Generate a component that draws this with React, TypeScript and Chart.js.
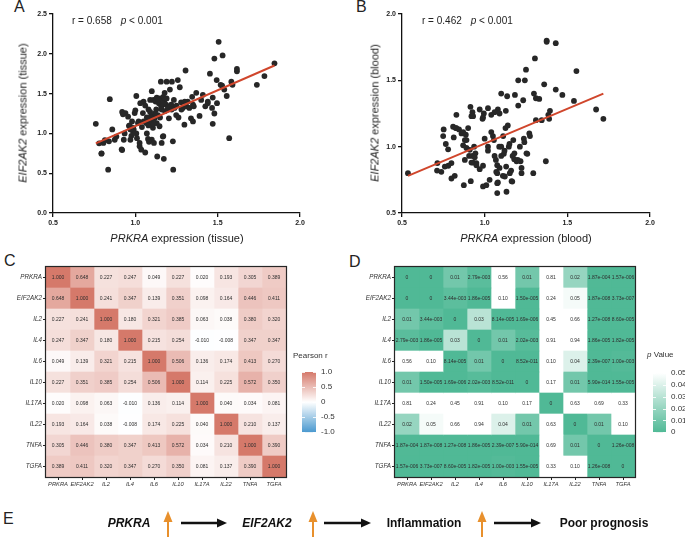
import React, { useEffect, useRef } from "react";
import { Chart, registerables } from "chart.js";

Chart.register(...registerables);

const FONT = "'Liberation Sans', Arial, Helvetica, sans-serif";

// ---------- Panel A: tissue ----------
const tissueX = [
  0.76, 0.794, 0.806, 0.835, 0.845, 0.84, 0.86, 0.875, 0.885, 0.917,
  0.92, 0.93, 0.935, 0.94, 0.956, 0.966, 0.976, 0.97, 0.986, 0.99,
  0.996, 1.0, 1.006, 1.006, 1.01, 1.016, 1.02, 1.026, 1.026, 1.036,
  1.046, 1.05, 1.06, 1.066, 1.07, 1.077, 1.08, 1.085, 1.09, 1.09,
  1.097, 1.1, 1.1, 1.107, 1.11, 1.113, 1.117, 1.123, 1.127, 1.13,
  1.133, 1.137, 1.143, 1.147, 1.15, 1.155, 1.157, 1.16, 1.167, 1.17,
  1.173, 1.177, 1.18, 1.187, 1.19, 1.197, 1.204, 1.21, 1.218, 1.222,
  1.228, 1.23, 1.234, 1.238, 1.248, 1.258, 1.262, 1.27, 1.278, 1.288,
  1.298, 1.305, 1.31, 1.318, 1.328, 1.338, 1.345, 1.355, 1.37, 1.39,
  1.41, 1.425, 1.44, 1.453, 1.466, 1.47, 1.48, 1.48, 1.494, 1.496,
  1.506, 1.518, 1.53, 1.54, 1.555, 1.57, 1.583, 1.59, 1.617, 1.617,
  1.738, 1.784, 1.845, 0.78, 0.815, 0.795, 0.925, 0.92, 0.961, 0.986,
  1.083, 1.17, 1.178, 1.05, 1.07, 1.08, 1.1, 1.12, 1.13, 1.14,
  1.16, 1.17, 1.19, 1.2, 1.11, 1.09, 1.06, 1.03, 1.04, 1.15,
  1.22, 1.25, 1.28, 1.3, 1.35, 1.4, 0.97, 0.98, 1.527, 1.44,
  1.47, 1.35,
];
const tissueY = [
  1.12, 0.745, 0.88, 0.544, 1.43, 0.9, 1.05, 0.92, 0.96, 0.8,
  1.27, 0.92, 1.0, 1.255, 1.21, 1.1, 0.97, 0.92, 1.07, 1.05,
  1.255, 1.29, 1.47, 1.0, 0.94, 1.13, 1.15, 0.84, 0.88, 0.795,
  1.255, 1.4, 0.76, 1.13, 1.0, 0.93, 1.3, 1.17, 1.11, 1.42,
  1.22, 0.92, 1.53, 1.07, 1.42, 0.88, 1.19, 1.4, 1.3, 1.13,
  0.71, 1.23, 1.38, 1.09, 1.44, 1.65, 1.34, 0.88, 0.96, 1.46,
  0.68, 1.42, 1.28, 1.36, 1.65, 1.3, 1.19, 1.55, 1.36, 1.65,
  0.9, 0.544, 1.42, 1.32, 1.23, 1.67, 1.2, 1.58, 1.39, 1.32,
  1.11, 1.79, 1.34, 1.4, 1.32, 1.19, 1.46, 1.34, 1.51, 1.22,
  1.485, 1.34, 1.4, 1.75, 1.32, 1.12, 1.25, 1.94, 1.67, 1.38,
  2.15, 1.61, 1.98, 1.55, 1.47, 0.94, 1.65, 1.61, 1.78, 1.81,
  1.61, 1.72, 1.88, 0.875, 0.915, 0.75, 1.24, 0.79, 1.095, 1.02,
  0.895, 0.966, 1.51, 1.15, 1.2, 1.1, 1.15, 1.25, 1.45, 1.42,
  1.3, 1.38, 1.44, 1.33, 1.12, 1.27, 1.35, 1.38, 1.08, 1.2,
  1.3, 1.35, 1.3, 1.4, 1.36, 1.42, 1.05, 1.15, 1.6, 1.38,
  1.45, 1.15,
];
const tissueFitX = [0.76, 1.845];
const tissueFitY = [0.875, 1.853];

// ---------- Panel B: blood ----------
const bloodX = [
  0.536, 0.714, 0.712, 0.738, 0.752, 0.749, 0.765, 0.759, 0.779, 0.799,
  0.799, 0.809, 0.813, 0.819, 0.829, 0.829, 0.845, 0.86, 0.87, 0.874,
  0.88, 0.886, 0.89, 0.9, 0.906, 0.914, 0.916, 0.92, 0.926, 0.926,
  0.93, 0.936, 0.944, 0.95, 0.97, 0.987, 0.99, 0.99, 0.995, 1.01,
  1.02, 1.02, 1.03, 1.04, 1.04, 1.05, 1.056, 1.06, 1.068, 1.07,
  1.076, 1.08, 1.08, 1.088, 1.09, 1.1, 1.1, 1.112, 1.116, 1.122,
  1.126, 1.128, 1.132, 1.136, 1.14, 1.146, 1.152, 1.163, 1.169, 1.173,
  1.183, 1.193, 1.203, 1.203, 1.213, 1.217, 1.223, 1.223, 1.233, 1.237,
  1.243, 1.25, 1.253, 1.27, 1.274, 1.294, 1.298, 1.304, 1.31, 1.31,
  1.33, 1.345, 1.36, 1.37, 1.375, 1.375, 1.385, 1.39, 1.395, 1.43,
  1.43, 1.47, 1.555, 1.54, 1.674, 1.718, 0.825, 0.87, 0.89, 0.91,
  0.78, 0.88, 0.92, 0.94, 0.95, 0.97, 1.076, 1.076, 1.076, 0.93,
  0.99, 1.06, 1.09, 1.0, 1.02, 1.1, 1.12, 1.15, 1.18, 1.2,
  1.13, 1.16, 1.11, 1.24, 1.258, 1.179, 1.167,
];
const bloodY = [
  0.8, 0.876, 0.82, 0.81, 1.13, 1.08, 1.02, 0.85, 0.98, 0.876,
  0.76, 1.15, 1.07, 0.78, 1.24, 1.14, 1.13, 1.1, 1.01, 0.71,
  1.05, 1.09, 0.99, 1.14, 0.93, 1.3, 0.74, 1.23, 1.26, 0.93,
  0.88, 1.0, 0.95, 0.876, 1.28, 1.21, 0.856, 0.7, 1.25, 0.71,
  1.29, 1.0, 0.75, 1.24, 1.11, 1.08, 1.05, 0.93, 0.9, 0.81,
  0.65, 1.28, 0.73, 1.0, 0.84, 1.4, 0.93, 1.08, 0.946, 0.775,
  1.14, 1.27, 0.66, 1.38, 1.16, 1.0, 0.8, 0.74, 0.93, 1.05,
  1.39, 0.89, 1.31, 1.5, 1.0, 0.89, 0.84, 0.8, 1.35, 1.06,
  1.5, 1.58, 0.95, 1.1, 1.08, 0.8, 1.4, 1.665, 1.365, 1.2,
  1.36, 1.2, 1.47, 0.89, 1.8, 1.79, 1.24, 1.21, 1.27, 1.43,
  1.78, 1.39, 1.57, 1.345, 1.28, 1.21, 1.14, 1.11, 1.05, 0.976,
  0.856, 0.9, 0.88, 0.92, 0.86, 0.83, 0.725, 0.8, 0.86, 1.23,
  1.22, 1.26, 1.25, 1.06, 0.97, 1.0, 0.97, 1.02, 0.95, 0.9,
  0.85, 0.82, 0.78, 1.034, 0.946, 0.906, 0.737,
];
const bloodFitX = [0.536, 1.718];
const bloodFitY = [0.78, 1.4];

// ---------- Panels C & D ----------
const genes = ["PRKRA", "EIF2AK2", "IL2", "IL4", "IL6", "IL10", "IL17A", "IL22", "TNFA", "TGFA"];

const pearsonR = [
  [1.0, 0.648, 0.227, 0.247, 0.049, 0.227, 0.02, 0.193, 0.305, 0.389],
  [0.648, 1.0, 0.241, 0.347, 0.139, 0.351, 0.098, 0.164, 0.446, 0.411],
  [0.227, 0.241, 1.0, 0.18, 0.321, 0.385, 0.063, 0.038, 0.38, 0.32],
  [0.247, 0.347, 0.18, 1.0, 0.215, 0.254, -0.01, -0.008, 0.347, 0.347],
  [0.049, 0.139, 0.321, 0.215, 1.0, 0.506, 0.136, 0.174, 0.413, 0.27],
  [0.227, 0.351, 0.385, 0.254, 0.506, 1.0, 0.114, 0.225, 0.572, 0.35],
  [0.02, 0.098, 0.063, -0.01, 0.136, 0.114, 1.0, 0.04, 0.034, 0.081],
  [0.193, 0.164, 0.038, -0.008, 0.174, 0.225, 0.04, 1.0, 0.21, 0.137],
  [0.305, 0.446, 0.38, 0.347, 0.413, 0.572, 0.034, 0.21, 1.0, 0.39],
  [0.389, 0.411, 0.32, 0.347, 0.27, 0.35, 0.081, 0.137, 0.39, 1.0],
];

const pValues = [
  [0, 0, 0.01, 2.79e-3, 0.56, 0.01, 0.81, 0.02, 1.87e-4, 1.57e-6],
  [0, 0, 3.44e-3, 1.86e-5, 0.1, 1.5e-5, 0.24, 0.047, 1.87e-8, 3.73e-7],
  [0.01, 3.44e-3, 0, 0.03, 8.14e-5, 1.69e-6, 0.45, 0.66, 1.27e-8, 8.6e-5],
  [2.79e-3, 1.86e-5, 0.03, 0, 0.01, 2.02e-3, 0.91, 0.94, 1.86e-5, 1.82e-5],
  [0.56, 0.1, 8.14e-5, 0.01, 0, 8.52e-11, 0.1, 0.04, 2.39e-7, 1.0e-3],
  [0.01, 1.5e-5, 1.69e-6, 2.02e-3, 8.52e-11, 0, 0.17, 0.01, 5.9e-14, 1.55e-5],
  [0.81, 0.24, 0.45, 0.91, 0.1, 0.17, 0, 0.63, 0.69, 0.33],
  [0.02, 0.047, 0.66, 0.94, 0.04, 0.01, 0.63, 0, 0.01, 0.1],
  [1.87e-4, 1.87e-8, 1.27e-8, 1.86e-5, 2.39e-7, 5.9e-14, 0.69, 0.01, 0, 1.26e-8],
  [1.57e-6, 3.73e-7, 8.6e-5, 1.82e-5, 1.0e-3, 1.55e-5, 0.33, 0.1, 1.26e-8, 0],
];

const rScaleMin = -1;
const rScaleMax = 1;
const rScaleStep = 0.5;
const pScaleMin = 0;
const pScaleMax = 0.05;
const pScaleStep = 0.01;

// ---------- Panel E ----------
const flowLabels = ["PRKRA", "EIF2AK2", "Inflammation", "Poor prognosis"];
const flowItalic = [true, true, false, false];

// ---------- helpers ----------
const RED = [213, 121, 106];
const BLUE = [74, 153, 207];
const GREEN = [80, 185, 150];

function mix(c: number[], t: number) {
  const f = (i: number) => Math.round(255 + (c[i] - 255) * t);
  return `rgb(${f(0)},${f(1)},${f(2)})`;
}
function rColor(r: number) {
  return r >= 0 ? mix(RED, Math.min(r, 1)) : mix(BLUE, Math.min(-r, 1));
}
function pColor(p: number) {
  return mix(GREEN, 1 - Math.min(p / pScaleMax, 1));
}
const fmtR = (v: number) => v.toFixed(3);
const fmtP = (v: number) =>
  v === 0
    ? "0"
    : v < 0.01
    ? v.toExponential(2).replace(/e([+-])(\d+)$/, (_m, s, d) => "e" + s + String(d).padStart(3, "0"))
    : v.toFixed(2);

const noPlugins = { legend: { display: false }, tooltip: { enabled: false } };

function ScatterPanel(props: any) {
  const { left, top, width, height, xs, ys, fitX, fitY, xMin, xMax, yMin, yMax, pad, yW, xH } = props;
  const ref = useRef<HTMLCanvasElement>(null);
  useEffect(() => {
    const tickFont = { family: FONT, size: 7, weight: "bold" as const };
    const axisCommon = {
      type: "linear" as const,
      grid: { drawOnChartArea: false, drawTicks: true, tickLength: 4, color: "#111", lineWidth: 1.3 },
      border: { display: true, color: "#111", width: 1.3 },
    };
    const chart = new Chart(ref.current as HTMLCanvasElement, {
      type: "scatter",
      data: {
        datasets: [
          {
            type: "line",
            data: fitX.map((x: number, i: number) => ({ x, y: fitY[i] })),
            borderColor: "#d0462c",
            borderWidth: 2,
            pointRadius: 0,
            order: 0,
          } as any,
          {
            type: "scatter",
            data: xs.map((x: number, i: number) => ({ x, y: ys[i] })),
            backgroundColor: "#272727",
            borderWidth: 0,
            pointRadius: 2.9,
            order: 1,
          } as any,
        ],
      },
      options: {
        responsive: false,
        animation: false,
        events: [],
        layout: { padding: pad },
        plugins: noPlugins as any,
        scales: {
          x: {
            ...axisCommon,
            min: xMin,
            max: xMax,
            afterFit: (s: any) => {
              s.height = xH;
            },
            ticks: {
              stepSize: 0.5,
              maxRotation: 0,
              padding: 2,
              color: "#222",
              font: tickFont,
              callback: (v: any) => Number(v).toFixed(1),
            },
          },
          y: {
            ...axisCommon,
            min: yMin,
            max: yMax,
            afterFit: (s: any) => {
              s.width = yW;
            },
            ticks: {
              stepSize: 0.5,
              padding: 2,
              color: "#222",
              font: tickFont,
              callback: (v: any) => Number(v).toFixed(1),
            },
          },
        },
      } as any,
    });
    return () => chart.destroy();
  }, []);
  return (
    <canvas
      ref={ref}
      width={width}
      height={height}
      style={{ position: "absolute", left, top, width, height }}
    />
  );
}

function HeatPanel(props: any) {
  const { left, top, width, height, matrix, colorOf, fmt, pad, yW, xH } = props;
  const ref = useRef<HTMLCanvasElement>(null);
  useEffect(() => {
    const yFont = { family: FONT, size: 6.3, style: "italic" as const };
    const xFont = { family: FONT, size: 5.8, style: "italic" as const };
    const cellText = {
      id: "cellText",
      afterDatasetsDraw(chart: any) {
        const c = chart.ctx;
        c.save();
        c.font = `5px ${FONT}`;
        c.fillStyle = "#2e2e2e";
        c.textAlign = "center";
        c.textBaseline = "middle";
        chart.data.datasets.forEach((_ds: any, j: number) => {
          const meta = chart.getDatasetMeta(j);
          meta.data.forEach((bar: any, i: number) => {
            c.fillText(fmt(matrix[i][j]), (bar.x + bar.base) / 2, bar.y + 0.3);
          });
        });
        c.restore();
      },
    };
    const frame = {
      id: "frame",
      afterDraw(chart: any) {
        const a = chart.chartArea;
        const c = chart.ctx;
        c.save();
        c.strokeStyle = "#262626";
        c.lineWidth = 1.2;
        c.strokeRect(a.left - 0.5, a.top - 0.5, a.right - a.left + 1, a.bottom - a.top + 1);
        c.restore();
      },
    };
    const chart = new Chart(ref.current as HTMLCanvasElement, {
      type: "bar",
      data: {
        labels: genes,
        datasets: genes.map((g, j) => ({
          label: g,
          data: genes.map(() => 1),
          backgroundColor: genes.map((_r, i) => colorOf(matrix[i][j])),
          borderWidth: 0,
          barPercentage: 1,
          categoryPercentage: 1,
          stack: "cells",
        })),
      },
      options: {
        indexAxis: "y",
        responsive: false,
        animation: false,
        events: [],
        layout: { padding: pad },
        plugins: noPlugins as any,
        scales: {
          x: {
            type: "linear",
            stacked: true,
            min: 0,
            max: genes.length,
            afterBuildTicks: (s: any) => {
              s.ticks = genes.map((_g, j) => ({ value: j + 0.5 }));
            },
            afterFit: (s: any) => {
              s.height = xH;
            },
            ticks: {
              autoSkip: false,
              maxRotation: 0,
              minRotation: 0,
              padding: 1,
              color: "#333",
              font: xFont,
              callback: (_v: any, i: number) => genes[i],
            },
            grid: { drawOnChartArea: false, drawTicks: true, tickLength: 3, color: "#222" },
            border: { display: false },
          },
          y: {
            type: "category",
            stacked: true,
            offset: true,
            afterFit: (s: any) => {
              s.width = yW;
            },
            ticks: { autoSkip: false, padding: 1, color: "#333", font: yFont },
            grid: { offset: false, drawOnChartArea: false, drawTicks: true, tickLength: 3, color: "#222" },
            border: { display: false },
          },
        },
      } as any,
      plugins: [cellText, frame],
    });
    return () => chart.destroy();
  }, []);
  return (
    <canvas
      ref={ref}
      width={width}
      height={height}
      style={{ position: "absolute", left, top, width, height }}
    />
  );
}

function ColorBar(props: any) {
  const { left, top, width, height, pad, yW, min, max, step, colorOf, tickFmt } = props;
  const ref = useRef<HTMLCanvasElement>(null);
  useEffect(() => {
    const barTicks = {
      id: "barTicks",
      afterDatasetsDraw(chart: any) {
        const a = chart.chartArea;
        const y = chart.scales.y;
        const c = chart.ctx;
        c.save();
        c.strokeStyle = "rgba(255,255,255,0.85)";
        c.lineWidth = 1;
        y.ticks.forEach((t: any) => {
          const py = Math.round(y.getPixelForValue(t.value)) + 0.5;
          c.beginPath();
          c.moveTo(a.left, py);
          c.lineTo(a.left + 3, py);
          c.moveTo(a.right - 3, py);
          c.lineTo(a.right, py);
          c.stroke();
        });
        c.restore();
      },
    };
    const chart = new Chart(ref.current as HTMLCanvasElement, {
      type: "bar",
      data: {
        labels: [""],
        datasets: [
          {
            data: [[min, max]],
            borderWidth: 0,
            barPercentage: 1,
            categoryPercentage: 1,
            backgroundColor: (ctx: any) => {
              const ch = ctx.chart;
              const a = ch.chartArea;
              if (!a) return "#fff";
              const g = ch.ctx.createLinearGradient(0, a.bottom, 0, a.top);
              for (let i = 0; i <= 20; i++) {
                g.addColorStop(i / 20, colorOf(min + ((max - min) * i) / 20));
              }
              return g;
            },
          } as any,
        ],
      },
      options: {
        responsive: false,
        animation: false,
        events: [],
        layout: { padding: pad },
        plugins: noPlugins as any,
        scales: {
          x: { display: false },
          y: {
            position: "right",
            min,
            max,
            afterFit: (s: any) => {
              s.width = yW;
            },
            ticks: {
              stepSize: step,
              autoSkip: false,
              padding: 5,
              color: "#333",
              font: { family: FONT, size: 8 },
              callback: tickFmt,
            },
            grid: { display: false, drawTicks: false },
            border: { display: false },
          },
        },
      } as any,
      plugins: [barTicks],
    });
    return () => chart.destroy();
  }, []);
  return (
    <canvas
      ref={ref}
      width={width}
      height={height}
      style={{ position: "absolute", left, top, width, height }}
    />
  );
}

const txt = (extra: any) => ({
  position: "absolute" as const,
  fontFamily: FONT,
  whiteSpace: "nowrap" as const,
  lineHeight: 1,
  color: "#222",
  ...extra,
});
const centered = (x: number, y: number, size: number, rot = 0) =>
  txt({
    left: x,
    top: y,
    fontSize: size,
    transform: `translate(-50%,-50%)${rot ? ` rotate(${rot}deg)` : ""}`,
  });

export default function App() {
  const orangeX = [168, 313, 482];
  const blackArrows = [
    [181, 227],
    [324, 371],
    [494, 541],
  ];
  const flowCenters = [129, 267, 424, 604];
  const flowY = 523;
  return (
    <div
      style={{
        position: "absolute",
        left: 0,
        top: 0,
        width: 685,
        height: 537,
        background: "#fff",
        overflow: "hidden",
      }}
    >
      {/* Panel letters */}
      <div style={txt({ left: 14, top: -1, fontSize: 16 })}>A</div>
      <div style={txt({ left: 356, top: -1, fontSize: 16 })}>B</div>
      <div style={txt({ left: 4, top: 253, fontSize: 16 })}>C</div>
      <div style={txt({ left: 349, top: 254, fontSize: 16 })}>D</div>
      <div style={txt({ left: 3, top: 511, fontSize: 16 })}>E</div>

      {/* Panel A */}
      <ScatterPanel
        left={0}
        top={0}
        width={340}
        height={250}
        xs={tissueX}
        ys={tissueY}
        fitX={tissueFitX}
        fitY={tissueFitY}
        xMin={0.5}
        xMax={2.0}
        yMin={0}
        yMax={2.5}
        yW={53}
        xH={37}
        pad={{ left: 0, top: 14, right: 40, bottom: 0 }}
      />
      <div style={txt({ left: 72, top: 16, fontSize: 10 })}>
        r = 0.658<span style={{ marginLeft: 9 }}><i>p</i> &lt; 0.001</span>
      </div>
      <div style={centered(23, 113, 11, -90)}>
        <i>EIF2AK2</i> expression (tissue)
      </div>
      <div style={centered(177, 238, 11)}>
        <i>PRKRA</i> expression (tissue)
      </div>

      {/* Panel B */}
      <ScatterPanel
        left={340}
        top={0}
        width={345}
        height={250}
        xs={bloodX}
        ys={bloodY}
        fitX={bloodFitX}
        fitY={bloodFitY}
        xMin={0.5}
        xMax={2.0}
        yMin={0.5}
        yMax={2.0}
        yW={62}
        xH={37}
        pad={{ left: 0, top: 14, right: 35, bottom: 0 }}
      />
      <div style={txt({ left: 422, top: 16, fontSize: 10 })}>
        r = 0.462<span style={{ marginLeft: 9 }}><i>p</i> &lt; 0.001</span>
      </div>
      <div style={centered(375, 113, 11, -90)}>
        <i>EIF2AK2</i> expression (blood)
      </div>
      <div style={centered(526, 238, 11)}>
        <i>PRKRA</i> expression (blood)
      </div>

      {/* Panel C */}
      <HeatPanel
        left={0}
        top={250}
        width={300}
        height={250}
        matrix={pearsonR}
        colorOf={rColor}
        fmt={fmtR}
        yW={46}
        xH={23}
        pad={{ left: 0, top: 17, right: 14, bottom: 0 }}
      />
      <div style={txt({ left: 293, top: 352, fontSize: 8, color: "#333" })}>Pearson r</div>
      <ColorBar
        left={295}
        top={362}
        width={60}
        height={80}
        pad={{ left: 7, top: 10, right: 0, bottom: 7 }}
        yW={39}
        min={rScaleMin}
        max={rScaleMax}
        step={rScaleStep}
        colorOf={rColor}
        tickFmt={(v: any) => (Math.abs(v) < 1e-9 ? "0" : Number(v).toFixed(1))}
      />

      {/* Panel D */}
      <HeatPanel
        left={350}
        top={250}
        width={300}
        height={250}
        matrix={pValues}
        colorOf={pColor}
        fmt={fmtP}
        yW={45}
        xH={23}
        pad={{ left: 0, top: 17, right: 15, bottom: 0 }}
      />
      <div style={txt({ left: 647, top: 351, fontSize: 8, color: "#333" })}>
        <i>p</i> Value
      </div>
      <ColorBar
        left={645}
        top={362}
        width={40}
        height={80}
        pad={{ left: 8, top: 11, right: 0, bottom: 7 }}
        yW={19}
        min={pScaleMin}
        max={pScaleMax}
        step={pScaleStep}
        colorOf={pColor}
        tickFmt={(v: any) => (Math.abs(v) < 1e-9 ? "0" : Number(v).toFixed(2))}
      />

      {/* Panel E */}
      <svg
        width={685}
        height={537}
        style={{ position: "absolute", left: 0, top: 0, pointerEvents: "none" }}
      >
        {flowLabels.map((l, i) => (
          <text
            key={l}
            x={flowCenters[i]}
            y={flowY}
            textAnchor="middle"
            dominantBaseline="central"
            fontFamily={FONT}
            fontWeight="bold"
            fontStyle={flowItalic[i] ? "italic" : "normal"}
            fontSize={12}
            fill="#111"
          >
            {l}
          </text>
        ))}
        {orangeX.map((x) => (
          <g key={x} fill="#e8902c">
            <rect x={x - 1} y={520} width={2} height={20} />
            <polygon points={`${x},511 ${x - 4.5},522 ${x + 4.5},522`} />
          </g>
        ))}
        {blackArrows.map(([a, b]) => (
          <g key={a}>
            <line x1={a} y1={flowY} x2={b - 8} y2={flowY} stroke="#111" strokeWidth={2.6} />
            <polygon points={`${b},${flowY} ${b - 10},${flowY - 4.5} ${b - 10},${flowY + 4.5}`} fill="#111" />
          </g>
        ))}
      </svg>
    </div>
  );
}
